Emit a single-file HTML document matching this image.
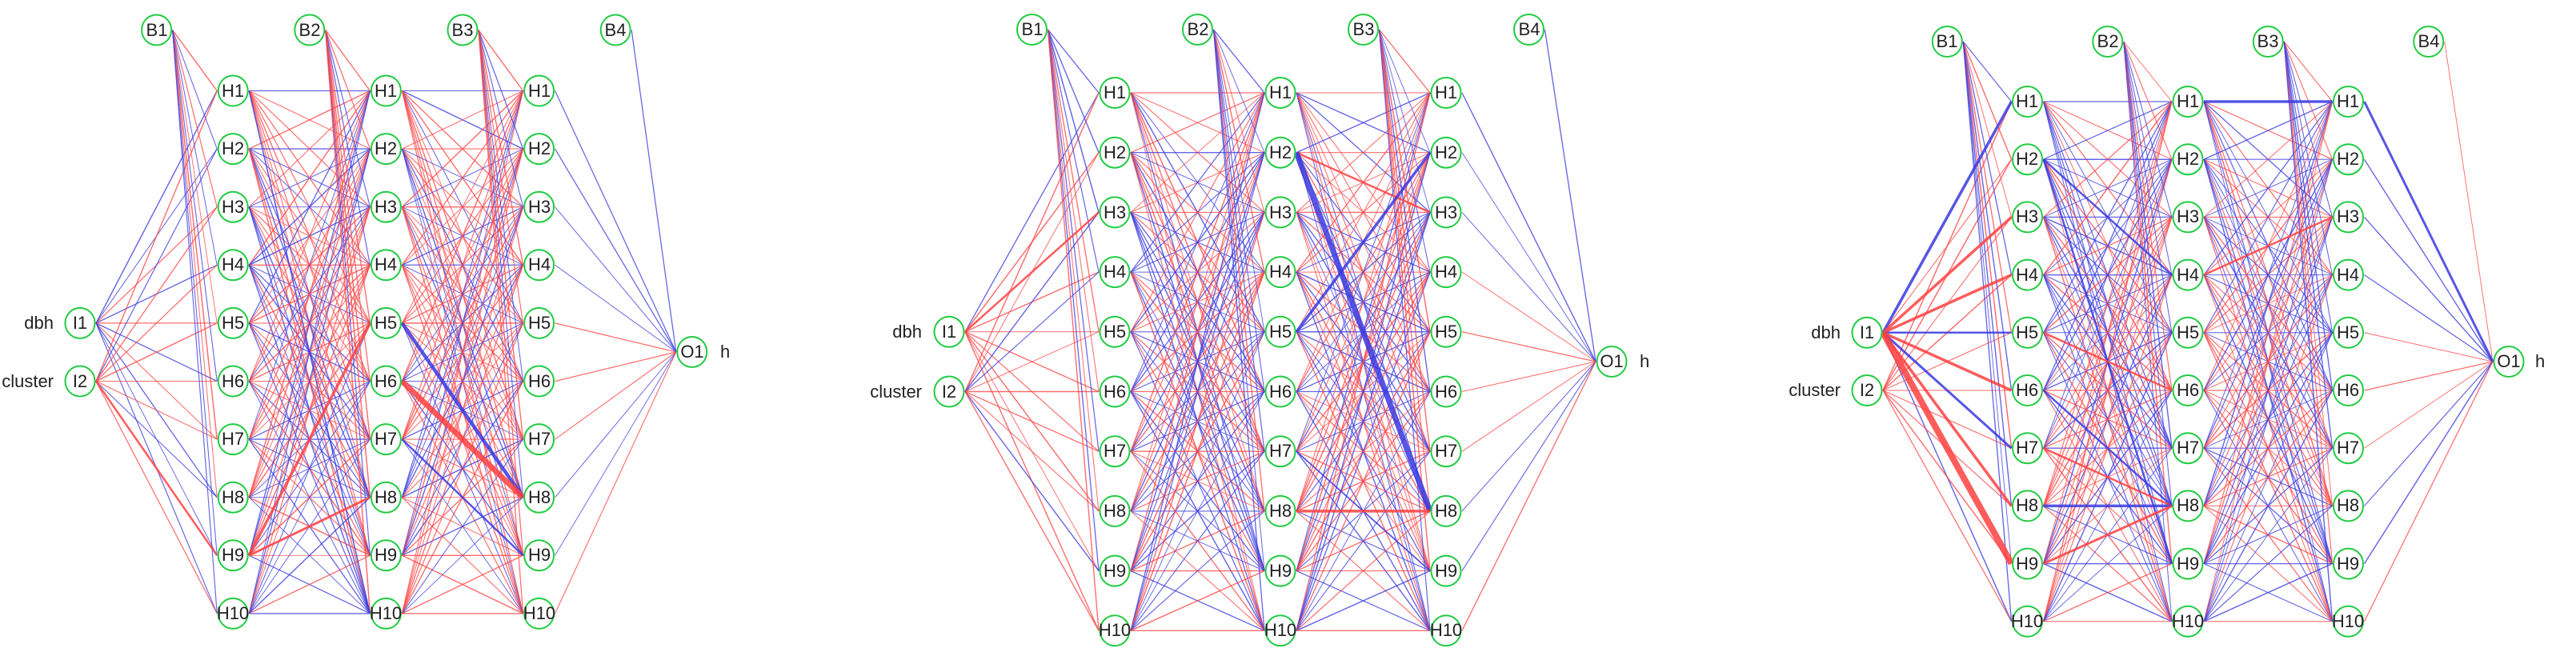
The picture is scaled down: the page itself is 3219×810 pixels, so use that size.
<!DOCTYPE html>
<html><head><meta charset="utf-8"><style>
html,body{margin:0;padding:0;background:#fff;}
svg{display:block}
text{font-family:"Liberation Sans",sans-serif;font-size:22px;fill:#222;text-anchor:middle}
.lab{text-anchor:end}
.h{text-anchor:start}
</style></head><body>
<svg id="s" width="3219" height="810" viewBox="0 0 3219 810" xmlns="http://www.w3.org/2000/svg">
<g id="lines"></g><g id="nodes"></g>
<g id="txt">
<!-- Panel 1 -->
<text class="lab" x="67" y="411">dbh</text><text class="lab" x="67" y="484">cluster</text>
<text x="100" y="411">I1</text><text x="100" y="484">I2</text>
<text x="196" y="45">B1</text><text x="387" y="45">B2</text><text x="578" y="45">B3</text><text x="769" y="45">B4</text>
<text x="865" y="447">O1</text><text class="h" x="900" y="447">h</text>
<text x="291" y="121">H1</text><text x="291" y="193">H2</text><text x="291" y="266">H3</text><text x="291" y="338">H4</text><text x="291" y="411">H5</text><text x="291" y="484">H6</text><text x="291" y="556">H7</text><text x="291" y="629">H8</text><text x="291" y="701">H9</text><text x="291" y="774">H10</text>
<text x="482" y="121">H1</text><text x="482" y="193">H2</text><text x="482" y="266">H3</text><text x="482" y="338">H4</text><text x="482" y="411">H5</text><text x="482" y="484">H6</text><text x="482" y="556">H7</text><text x="482" y="629">H8</text><text x="482" y="701">H9</text><text x="482" y="774">H10</text>
<text x="674" y="121">H1</text><text x="674" y="193">H2</text><text x="674" y="266">H3</text><text x="674" y="338">H4</text><text x="674" y="411">H5</text><text x="674" y="484">H6</text><text x="674" y="556">H7</text><text x="674" y="629">H8</text><text x="674" y="701">H9</text><text x="674" y="774">H10</text>
<!-- Panel 2 -->
<text class="lab" x="1152" y="422">dbh</text><text class="lab" x="1152" y="497">cluster</text>
<text x="1186" y="422">I1</text><text x="1186" y="497">I2</text>
<text x="1290" y="44">B1</text><text x="1497" y="44">B2</text><text x="1704" y="44">B3</text><text x="1911" y="44">B4</text>
<text x="2014" y="459">O1</text><text class="h" x="2049" y="459">h</text>
<text x="1393" y="123">H1</text><text x="1393" y="198">H2</text><text x="1393" y="273">H3</text><text x="1393" y="347">H4</text><text x="1393" y="422">H5</text><text x="1393" y="497">H6</text><text x="1393" y="571">H7</text><text x="1393" y="646">H8</text><text x="1393" y="721">H9</text><text x="1393" y="795">H10</text>
<text x="1600" y="123">H1</text><text x="1600" y="198">H2</text><text x="1600" y="273">H3</text><text x="1600" y="347">H4</text><text x="1600" y="422">H5</text><text x="1600" y="497">H6</text><text x="1600" y="571">H7</text><text x="1600" y="646">H8</text><text x="1600" y="721">H9</text><text x="1600" y="795">H10</text>
<text x="1807" y="123">H1</text><text x="1807" y="198">H2</text><text x="1807" y="273">H3</text><text x="1807" y="347">H4</text><text x="1807" y="422">H5</text><text x="1807" y="497">H6</text><text x="1807" y="571">H7</text><text x="1807" y="646">H8</text><text x="1807" y="721">H9</text><text x="1807" y="795">H10</text>
<!-- Panel 3 -->
<text class="lab" x="2300" y="423">dbh</text><text class="lab" x="2300" y="495">cluster</text>
<text x="2333" y="423">I1</text><text x="2333" y="495">I2</text>
<text x="2433" y="59">B1</text><text x="2634" y="59">B2</text><text x="2834" y="59">B3</text><text x="3035" y="59">B4</text>
<text x="3135" y="459">O1</text><text class="h" x="3168" y="459">h</text>
<text x="2533" y="134">H1</text><text x="2533" y="206">H2</text><text x="2533" y="278">H3</text><text x="2533" y="351">H4</text><text x="2533" y="423">H5</text><text x="2533" y="495">H6</text><text x="2533" y="567">H7</text><text x="2533" y="639">H8</text><text x="2533" y="712">H9</text><text x="2533" y="784">H10</text>
<text x="2734" y="134">H1</text><text x="2734" y="206">H2</text><text x="2734" y="278">H3</text><text x="2734" y="351">H4</text><text x="2734" y="423">H5</text><text x="2734" y="495">H6</text><text x="2734" y="567">H7</text><text x="2734" y="639">H8</text><text x="2734" y="712">H9</text><text x="2734" y="784">H10</text>
<text x="2934" y="134">H1</text><text x="2934" y="206">H2</text><text x="2934" y="278">H3</text><text x="2934" y="351">H4</text><text x="2934" y="423">H5</text><text x="2934" y="495">H6</text><text x="2934" y="567">H7</text><text x="2934" y="639">H8</text><text x="2934" y="712">H9</text><text x="2934" y="784">H10</text>
</g>
</svg>
<script>
(function(){
var NS="http://www.w3.org/2000/svg";
var L=document.getElementById("lines"),N=document.getElementById("nodes");
var RED="#ff4848",BLU="#4040e0";
var panels=[
 {x0:100,dx:95.6,y1:113.5,dy:72.6,by:37.5,oy:440,seed:7,out:"bbbbrrrbbr",b4:"b",i1p:0.7,i2p:0.25,
  thick:[["2:5","3:7","#ff4040",7],["2:4","3:7","#3838e0",4.5],["1:8","2:4","#ff4040",3.5],["1:8","2:7","#ff4040",3],["I:1","1:8","#ff4040",2.5],["2:6","3:8","#3838e0",2.5],["1:0","2:9","#3838e0",1.5]]},
 {x0:1186,dx:103.5,y1:116,dy:74.7,by:37,oy:452,seed:13,out:"bbbrrrrbbr",b4:"b",i1p:0.5,i2p:0.35,
  thick:[["2:1","3:7","#3838e0",7],["2:4","3:1","#3838e0",3.5],["2:7","3:7","#ff4040",3.5],["2:1","3:2","#ff4040",2.5],["I:0","1:2","#ff4040",2.5],["2:6","3:8","#3838e0",1.8]]},
 {x0:2333,dx:100.25,y1:127,dy:72.2,by:52,oy:452,seed:29,out:"bbbbrrrbbr",b4:"r",i1p:0.5,i2p:0.0,
  thick:[["I:0","1:0","#3838e0",3.5],["I:0","1:2","#ff4040",3.5],["I:0","1:3","#ff4040",3.5],["I:0","1:4","#3838e0",2.5],["I:0","1:5","#ff4040",3.5],["I:0","1:6","#3838e0",3],["I:0","1:7","#ff4040",3.5],["I:0","1:8","#ff4040",8],
   ["1:7","2:7","#3838e0",3.5],["1:1","2:3","#3838e0",2.5],["1:1","2:8","#3838e0",2.5],["1:5","2:7","#3838e0",2.5],["1:8","2:7","#ff4040",3],["1:4","2:5","#ff4040",2.5],["1:6","2:7","#ff4040",2.5],
   ["2:0","3:0","#3838e0",3.5],["3:0","O:0","#3838e0",3],["2:3","3:2","#ff4040",2.5]]}
];
function rng(s){return function(){s=(s*16807)%2147483647;return (s-1)/2147483646;};}
panels.forEach(function(p){
 var R=rng(p.seed);
 function cx(c){return p.x0+c*p.dx;}
 function ry(i){return p.y1+i*p.dy;}
 function pos(k){var a=k.split(":"),i=+a[1];
  if(a[0]=="I")return [cx(0),ry(4+i)];
  if(a[0]=="O")return [cx(8),p.oy];
  if(a[0]=="B")return [cx(1+2*i),p.by];
  var l=+a[0];return [cx(2*l),ry(i)];}
 var th={};p.thick.forEach(function(t){th[t[0]+">"+t[1]]=t;});
 var thickG=document.createElementNS(NS,"g");
 function line(a,b,forced,pb){
  var A=pos(a),B=pos(b),t=th[a+">"+b];
  var r=R();
  var col=r<(pb==null?0.5:pb)?BLU:RED,w=0.9+R()*0.6;
  if(forced)col=forced=="b"?BLU:RED;
  if(t){col=t[2];w=t[3];}
  var e=document.createElementNS(NS,"line");
  e.setAttribute("x1",A[0]+20);e.setAttribute("y1",A[1]);
  e.setAttribute("x2",B[0]-20);e.setAttribute("y2",B[1]);
  e.setAttribute("stroke",col);e.setAttribute("stroke-width",w);
  e.setAttribute("stroke-opacity",t?0.85:0.8);
  (t?thickG:L).appendChild(e);
 }
 var i,j;
 for(j=0;j<10;j++)line("I:0","1:"+j,null,p.i1p);
 for(j=0;j<10;j++)line("I:1","1:"+j,null,p.i2p);
 for(j=0;j<10;j++)line("B:0","1:"+j);
 for(i=0;i<10;i++)for(j=0;j<10;j++)line("1:"+i,"2:"+j);
 for(j=0;j<10;j++)line("B:1","2:"+j);
 for(i=0;i<10;i++)for(j=0;j<10;j++)line("2:"+i,"3:"+j);
 for(j=0;j<10;j++)line("B:2","3:"+j);
 for(i=0;i<10;i++)line("3:"+i,"O:0",p.out[i]);
 line("B:3","O:0",p.b4);
 L.appendChild(thickG);
 function circ(P){var e=document.createElementNS(NS,"ellipse");
  e.setAttribute("cx",P[0]);e.setAttribute("cy",P[1]);e.setAttribute("rx",18.5);e.setAttribute("ry",19);
  e.setAttribute("fill","#fff");e.setAttribute("fill-opacity","0");e.setAttribute("stroke","#22cc44");e.setAttribute("stroke-width",2);N.appendChild(e);}
 circ(pos("I:0"));circ(pos("I:1"));circ(pos("O:0"));
 for(i=0;i<4;i++)circ(pos("B:"+i));
 for(var l=1;l<=3;l++)for(j=0;j<10;j++)circ(pos(l+":"+j));
});
})();
</script>
</body></html>
